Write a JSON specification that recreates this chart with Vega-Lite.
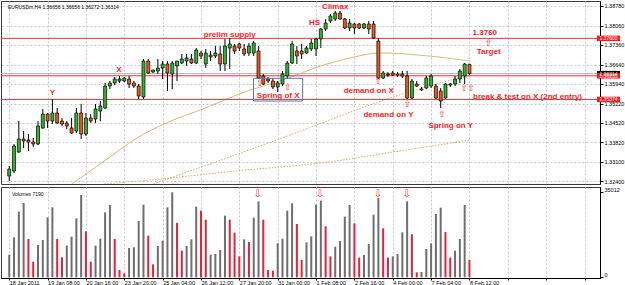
{
"$schema":"https://vega.github.io/schema/vega-lite/v6.json",
"padding":0,
"background":"#ffffff",
"spacing":0,
"resolve":{"scale":{"color":"independent","fill":"independent","strokeDash":"independent"}},
"config":{
 "view":{"stroke":"#3a3a3a","strokeWidth":1},
 "font":"Liberation Sans",
 "axis":{"labelFont":"Liberation Sans","labelFontSize":5.5,"labelColor":"#000000","tickColor":"#000000","domainColor":"#000000","gridColor":"#c8c8c8","gridDash":[2,2],"tickSize":3,"labelPadding":1,"labelFlush":false,"labelOverlap":false}
},
"datasets":{
 "c":[
{"i":0,"o":1.32582,"h":1.32947,"l":1.32400,"c":1.32836,"v":9323,"vc":"g"},
{"i":1,"o":1.32764,"h":1.33749,"l":1.32691,"c":1.33676,"v":16463,"vc":"g"},
{"i":2,"o":1.33457,"h":1.34587,"l":1.33421,"c":1.33931,"v":27034,"vc":"g"},
{"i":3,"o":1.33931,"h":1.34222,"l":1.33603,"c":1.33858,"v":30604,"vc":"g"},
{"i":4,"o":1.33895,"h":1.34113,"l":1.33494,"c":1.33822,"v":15776,"vc":"r"},
{"i":5,"o":1.33822,"h":1.33967,"l":1.33639,"c":1.33749,"v":6438,"vc":"r"},
{"i":6,"o":1.33749,"h":1.34587,"l":1.33712,"c":1.34405,"v":13304,"vc":"g"},
{"i":7,"o":1.34333,"h":1.35025,"l":1.34296,"c":1.34842,"v":15364,"vc":"g"},
{"i":8,"o":1.34842,"h":1.34879,"l":1.34333,"c":1.34587,"v":24702,"vc":"g"},
{"i":9,"o":1.34587,"h":1.35389,"l":1.34478,"c":1.34879,"v":28821,"vc":"g"},
{"i":10,"o":1.34879,"h":1.35061,"l":1.34478,"c":1.34514,"v":15776,"vc":"r"},
{"i":11,"o":1.34587,"h":1.34697,"l":1.34405,"c":1.34478,"v":8226,"vc":"r"},
{"i":12,"o":1.34514,"h":1.34587,"l":1.34296,"c":1.34405,"v":13029,"vc":"g"},
{"i":13,"o":1.34333,"h":1.34697,"l":1.34113,"c":1.34150,"v":16735,"vc":"g"},
{"i":14,"o":1.34222,"h":1.35061,"l":1.34150,"c":1.34879,"v":24290,"vc":"g"},
{"i":15,"o":1.34879,"h":1.35207,"l":1.33931,"c":1.34113,"v":33900,"vc":"g"},
{"i":16,"o":1.34113,"h":1.34879,"l":1.34040,"c":1.34697,"v":18935,"vc":"r"},
{"i":17,"o":1.34697,"h":1.34842,"l":1.34514,"c":1.34587,"v":6438,"vc":"r"},
{"i":18,"o":1.34660,"h":1.35207,"l":1.34514,"c":1.35025,"v":13029,"vc":"g"},
{"i":19,"o":1.34952,"h":1.35316,"l":1.34587,"c":1.35134,"v":15912,"vc":"g"},
{"i":20,"o":1.35061,"h":1.35973,"l":1.35025,"c":1.35863,"v":26761,"vc":"g"},
{"i":21,"o":1.35863,"h":1.36045,"l":1.35753,"c":1.35973,"v":29780,"vc":"g"},
{"i":22,"o":1.35973,"h":1.36191,"l":1.35899,"c":1.36118,"v":15776,"vc":"r"},
{"i":23,"o":1.36045,"h":1.36228,"l":1.35973,"c":1.36118,"v":3007,"vc":"r"},
{"i":24,"o":1.36045,"h":1.36191,"l":1.36009,"c":1.36155,"v":1635,"vc":"r"},
{"i":25,"o":1.36118,"h":1.36228,"l":1.35790,"c":1.35936,"v":12069,"vc":"g"},
{"i":26,"o":1.35973,"h":1.36045,"l":1.35790,"c":1.35863,"v":12345,"vc":"g"},
{"i":27,"o":1.35863,"h":1.35936,"l":1.35389,"c":1.35499,"v":23190,"vc":"g"},
{"i":28,"o":1.35462,"h":1.36848,"l":1.35389,"c":1.36774,"v":29917,"vc":"g"},
{"i":29,"o":1.36774,"h":1.36848,"l":1.36301,"c":1.36337,"v":17147,"vc":"r"},
{"i":30,"o":1.36374,"h":1.36447,"l":1.36337,"c":1.36447,"v":5342,"vc":"r"},
{"i":31,"o":1.36410,"h":1.36848,"l":1.36301,"c":1.36519,"v":12892,"vc":"g"},
{"i":32,"o":1.36519,"h":1.36774,"l":1.36118,"c":1.36665,"v":15088,"vc":"g"},
{"i":33,"o":1.36665,"h":1.36774,"l":1.35681,"c":1.36337,"v":28821,"vc":"g"},
{"i":34,"o":1.36301,"h":1.36774,"l":1.35753,"c":1.36701,"v":35012,"vc":"g"},
{"i":35,"o":1.36592,"h":1.36774,"l":1.36045,"c":1.36774,"v":22366,"vc":"r"},
{"i":36,"o":1.36701,"h":1.37030,"l":1.36665,"c":1.36848,"v":10969,"vc":"r"},
{"i":37,"o":1.36774,"h":1.37030,"l":1.36592,"c":1.36884,"v":12892,"vc":"g"},
{"i":38,"o":1.36848,"h":1.37030,"l":1.36665,"c":1.36701,"v":15640,"vc":"g"},
{"i":39,"o":1.36701,"h":1.37249,"l":1.36665,"c":1.37176,"v":29093,"vc":"g"},
{"i":40,"o":1.37065,"h":1.37139,"l":1.36848,"c":1.36957,"v":27445,"vc":"r"},
{"i":41,"o":1.36665,"h":1.37213,"l":1.36519,"c":1.37065,"v":23738,"vc":"r"},
{"i":42,"o":1.36993,"h":1.37139,"l":1.36774,"c":1.36921,"v":9323,"vc":"g"},
{"i":43,"o":1.36957,"h":1.37321,"l":1.36884,"c":1.37065,"v":9597,"vc":"g"},
{"i":44,"o":1.37030,"h":1.37321,"l":1.36410,"c":1.36665,"v":11245,"vc":"g"},
{"i":45,"o":1.36665,"h":1.37577,"l":1.36410,"c":1.37321,"v":25386,"vc":"g"},
{"i":46,"o":1.37249,"h":1.37613,"l":1.36483,"c":1.37394,"v":23738,"vc":"r"},
{"i":47,"o":1.37321,"h":1.37394,"l":1.37030,"c":1.37139,"v":18384,"vc":"r"},
{"i":48,"o":1.37394,"h":1.37431,"l":1.37139,"c":1.37249,"v":8636,"vc":"r"},
{"i":49,"o":1.37213,"h":1.37394,"l":1.36957,"c":1.37030,"v":15640,"vc":"g"},
{"i":50,"o":1.37065,"h":1.37431,"l":1.36957,"c":1.37321,"v":14540,"vc":"r"},
{"i":51,"o":1.37065,"h":1.37504,"l":1.36957,"c":1.37431,"v":24562,"vc":"g"},
{"i":52,"o":1.37139,"h":1.37321,"l":1.36118,"c":1.36155,"v":31291,"vc":"g"},
{"i":53,"o":1.36228,"h":1.36301,"l":1.35899,"c":1.35936,"v":23738,"vc":"r"},
{"i":54,"o":1.36118,"h":1.36191,"l":1.35973,"c":1.36045,"v":3007,"vc":"r"},
{"i":55,"o":1.36045,"h":1.36155,"l":1.35753,"c":1.35827,"v":2732,"vc":"r"},
{"i":56,"o":1.35827,"h":1.36045,"l":1.35645,"c":1.35973,"v":13991,"vc":"g"},
{"i":57,"o":1.35936,"h":1.36410,"l":1.35863,"c":1.36301,"v":15912,"vc":"g"},
{"i":58,"o":1.36228,"h":1.36774,"l":1.36118,"c":1.36701,"v":27445,"vc":"g"},
{"i":59,"o":1.36701,"h":1.37504,"l":1.36665,"c":1.37394,"v":30467,"vc":"g"},
{"i":60,"o":1.37139,"h":1.37321,"l":1.36665,"c":1.36957,"v":21954,"vc":"r"},
{"i":61,"o":1.37139,"h":1.37394,"l":1.36848,"c":1.37030,"v":7126,"vc":"r"},
{"i":62,"o":1.37065,"h":1.37321,"l":1.37030,"c":1.37249,"v":14404,"vc":"g"},
{"i":63,"o":1.37213,"h":1.37577,"l":1.37139,"c":1.37431,"v":16876,"vc":"g"},
{"i":64,"o":1.37213,"h":1.37613,"l":1.36957,"c":1.37577,"v":29917,"vc":"g"},
{"i":65,"o":1.37577,"h":1.37978,"l":1.37249,"c":1.37941,"v":31564,"vc":"g"},
{"i":66,"o":1.37941,"h":1.38306,"l":1.37868,"c":1.38160,"v":20994,"vc":"r"},
{"i":67,"o":1.38233,"h":1.38488,"l":1.38160,"c":1.38415,"v":8636,"vc":"r"},
{"i":68,"o":1.38306,"h":1.38598,"l":1.38233,"c":1.38525,"v":12617,"vc":"g"},
{"i":69,"o":1.38525,"h":1.38598,"l":1.38269,"c":1.38306,"v":14952,"vc":"g"},
{"i":70,"o":1.38306,"h":1.38342,"l":1.37941,"c":1.37978,"v":24974,"vc":"g"},
{"i":71,"o":1.37978,"h":1.38306,"l":1.37868,"c":1.38160,"v":29780,"vc":"g"},
{"i":72,"o":1.38123,"h":1.38160,"l":1.37759,"c":1.37978,"v":22230,"vc":"r"},
{"i":73,"o":1.38123,"h":1.38160,"l":1.37941,"c":1.37978,"v":8086,"vc":"r"},
{"i":74,"o":1.37978,"h":1.38160,"l":1.37941,"c":1.38123,"v":9185,"vc":"g"},
{"i":75,"o":1.38123,"h":1.38233,"l":1.37759,"c":1.37941,"v":13716,"vc":"g"},
{"i":76,"o":1.38123,"h":1.38233,"l":1.37577,"c":1.37613,"v":25797,"vc":"g"},
{"i":77,"o":1.37504,"h":1.37613,"l":1.36118,"c":1.36155,"v":32664,"vc":"g"},
{"i":78,"o":1.36155,"h":1.36410,"l":1.36118,"c":1.36337,"v":20171,"vc":"r"},
{"i":79,"o":1.36301,"h":1.36374,"l":1.36191,"c":1.36264,"v":8086,"vc":"r"},
{"i":80,"o":1.36337,"h":1.36410,"l":1.36228,"c":1.36264,"v":8636,"vc":"g"},
{"i":81,"o":1.36301,"h":1.36374,"l":1.36191,"c":1.36264,"v":9597,"vc":"g"},
{"i":82,"o":1.36301,"h":1.36410,"l":1.36155,"c":1.36228,"v":18523,"vc":"g"},
{"i":83,"o":1.36228,"h":1.36410,"l":1.35389,"c":1.35426,"v":31291,"vc":"g"},
{"i":84,"o":1.35426,"h":1.36118,"l":1.35389,"c":1.36045,"v":17699,"vc":"r"},
{"i":85,"o":1.35936,"h":1.36045,"l":1.35827,"c":1.35863,"v":2047,"vc":"r"},
{"i":86,"o":1.35753,"h":1.35827,"l":1.35681,"c":1.35717,"v":2183,"vc":"g"},
{"i":87,"o":1.35790,"h":1.36228,"l":1.35753,"c":1.36155,"v":11657,"vc":"g"},
{"i":88,"o":1.35863,"h":1.36301,"l":1.35790,"c":1.36228,"v":13991,"vc":"g"},
{"i":89,"o":1.35863,"h":1.35936,"l":1.35389,"c":1.35426,"v":26073,"vc":"g"},
{"i":90,"o":1.35681,"h":1.35790,"l":1.35061,"c":1.35316,"v":28681,"vc":"g"},
{"i":91,"o":1.35426,"h":1.35973,"l":1.35389,"c":1.35936,"v":18659,"vc":"r"},
{"i":92,"o":1.35899,"h":1.35973,"l":1.35827,"c":1.35936,"v":8086,"vc":"r"},
{"i":93,"o":1.35936,"h":1.36228,"l":1.35863,"c":1.36118,"v":10969,"vc":"g"},
{"i":94,"o":1.36118,"h":1.36483,"l":1.35973,"c":1.36410,"v":15776,"vc":"g"},
{"i":95,"o":1.36228,"h":1.36701,"l":1.35936,"c":1.36665,"v":29780,"vc":"g"},
{"i":96,"o":1.36656,"h":1.36656,"l":1.36272,"c":1.36314,"v":7190,"vc":"r"}
 ],
 "ma":[
{"s":"a","i":13.07,"p":1.32291},{"s":"a","i":19.84,"p":1.33129},{"s":"a","i":27.0,"p":1.34004},{"s":"a","i":32.76,"p":1.34514},{"s":"a","i":40.35,"p":1.35025},{"s":"a","i":48.55,"p":1.35608},{"s":"a","i":58.2,"p":1.36155},{"s":"a","i":64.96,"p":1.36592},{"s":"a","i":71.1,"p":1.36884},{"s":"a","i":77.27,"p":1.37066},{"s":"a","i":87.5,"p":1.36957},{"s":"a","i":96.14,"p":1.36774},
{"s":"b","i":30.09,"p":1.32291},{"s":"b","i":50.6,"p":1.33567},{"s":"b","i":60.86,"p":1.34223},{"s":"b","i":75.2,"p":1.35171},{"s":"b","i":84.04,"p":1.35681},{"s":"b","i":94.3,"p":1.36155},{"s":"b","i":96.14,"p":1.3621},
{"s":"c","i":19.84,"p":1.32291},{"s":"c","i":33.6,"p":1.32509},{"s":"c","i":47.1,"p":1.32765},{"s":"c","i":64.96,"p":1.33056},{"s":"c","i":81.4,"p":1.33494},{"s":"c","i":96.14,"p":1.33895}
 ],
 "lv":[{"p":1.376,"k":"lvl"},{"p":1.36235,"k":"lvl"},{"p":1.35374,"k":"lvl"},{"p":1.36314,"k":"bid"}],
 "tg":[{"p":1.36314,"t":"1.36314","k":"bid"},{"p":1.376,"t":"1.37600","k":"lvl"},{"p":1.36235,"t":"1.36235","k":"lvl"},{"p":1.35374,"t":"1.35374","k":"lvl"}],
 "nt":[
{"i":9.0,"p":1.35608,"t":"Y"},
{"i":22.9,"p":1.36447,"t":"X"},
{"i":46.0,"p":1.37723,"t":"prelim supply"},
{"i":63.7,"p":1.38171,"t":"HS"},
{"i":68.0,"p":1.38743,"t":"Climax"},
{"i":56.1,"p":1.35517,"t":"Spring of X"},
{"i":75.0,"p":1.35681,"t":"demand on X"},
{"i":79.1,"p":1.34820,"t":"demand on Y"},
{"i":92.1,"p":1.34405,"t":"Spring on Y"},
{"i":108.1,"p":1.35462,"t":"break & test on X (2nd entry)"},
{"i":99.2,"p":1.37785,"t":"1.3760"},
{"i":100.0,"p":1.37114,"t":"Target"}
 ],
 "ar":[
{"i":52.3,"p":1.35984},{"i":58.1,"p":1.35845},{"i":77.0,"p":1.36045},{"i":100.0,"p":1.37442},{"i":94.9,"p":1.3579},{"i":96.4,"p":1.3579},{"i":83.1,"p":1.35207},{"i":90.3,"p":1.34832}
 ],
 "bx":[{"i1":50.95,"i2":61.2,"p1":1.36144,"p2":1.35316}],
 "tt":[{"i":-0.27,"p":1.38743,"t":"EURUSDm,H4  1.36656 1.36656 1.36272 1.36314"}],
 "va":[{"i":51.8,"v":34312},{"i":64.8,"v":34312},{"i":76.9,"v":34312},{"i":82.9,"v":34312}],
 "vt":[{"i":0.55,"v":34312,"t":"Volumes 7190"}]
},
"vconcat":[
 {"width":599,"height":183,
  "layer":[
   {"data":{"name":"ma"},"mark":{"type":"line","clip":true,"strokeWidth":1,"interpolate":"monotone","color":"#d6ac6c"},
    "encoding":{
     "x":{"field":"i","type":"quantitative","title":null,"scale":{"domain":[-0.677,122.19],"nice":false,"zero":false},"axis":{"values":[0,8,16,24,32,40,48,56,64,72,80,88,96,104,112,120],"tickCount":100,"labels":false,"ticks":false,"domain":false,"grid":true}},
     "y":{"field":"p","type":"quantitative","title":null,"scale":{"domain":[1.32291,1.38962],"nice":false,"zero":false},"axis":{"orient":"right","values":[1.3878,1.3806,1.3736,1.3664,1.3594,1.3522,1.3452,1.3382,1.331,1.324],"tickCount":100,"format":".5f","grid":true,"labelOverlap":false,"labelFontSize":5.5}},
     "detail":{"field":"s","type":"nominal"},
     "strokeDash":{"field":"s","type":"nominal","scale":{"domain":["a","b","c"],"range":[[1,0],[1.5,1.5],[1.5,1.5]]},"legend":null}}},
   {"data":{"name":"lv"},"mark":{"type":"rule","strokeWidth":1},
    "encoding":{"y":{"field":"p","type":"quantitative","title":null},
     "color":{"field":"k","type":"nominal","scale":{"domain":["lvl","bid"],"range":["#e8303a","#b4b4b4"]},"legend":null}}},
   {"data":{"name":"c"},"mark":{"type":"rule","color":"#000000","strokeWidth":1,"clip":true},
    "encoding":{"x":{"field":"i","type":"quantitative","title":null},"y":{"field":"l","type":"quantitative","title":null},"y2":{"field":"h"}}},
   {"data":{"name":"c"},"mark":{"type":"bar","size":3,"stroke":"#000000","strokeWidth":0.7,"clip":true},
    "encoding":{"x":{"field":"i","type":"quantitative","title":null},"y":{"field":"o","type":"quantitative","title":null},"y2":{"field":"c"},
     "fill":{"condition":{"test":"datum.c>=datum.o","value":"#2fb52f"},"value":"#ea5a1e"}}},
   {"data":{"name":"bx"},"mark":{"type":"rect","fillOpacity":0,"stroke":"#4a7bb7","strokeWidth":1},
    "encoding":{"x":{"field":"i1","type":"quantitative","title":null},"x2":{"field":"i2"},"y":{"field":"p1","type":"quantitative","title":null},"y2":{"field":"p2"}}},
   {"data":{"name":"nt"},"mark":{"type":"text","font":"Liberation Sans","fontWeight":"bold","fontSize":8,"color":"#ff1c1c"},
    "encoding":{"x":{"field":"i","type":"quantitative","title":null},"y":{"field":"p","type":"quantitative","title":null},"text":{"field":"t"}}},
   {"data":{"name":"ar"},"mark":{"type":"text","font":"DejaVu Sans","fontSize":9,"color":"#ff2a2a"},
    "encoding":{"x":{"field":"i","type":"quantitative","title":null},"y":{"field":"p","type":"quantitative","title":null},"text":{"value":"⇧"}}},
   {"data":{"name":"tt"},"mark":{"type":"text","font":"Liberation Sans","fontSize":5,"color":"#000000","align":"left"},
    "encoding":{"x":{"field":"i","type":"quantitative","title":null},"y":{"field":"p","type":"quantitative","title":null},"text":{"field":"t"}}},
   {"data":{"name":"tg"},"mark":{"type":"rect","width":23,"height":5.5,"clip":false},
    "encoding":{"x":{"datum":125.0,"type":"quantitative"},"y":{"field":"p","type":"quantitative","title":null},
     "fill":{"field":"k","type":"nominal","scale":{"domain":["lvl","bid"],"range":["#ff1a1a","#000000"]},"legend":null}}},
   {"data":{"name":"tg"},"mark":{"type":"text","font":"Liberation Sans","fontSize":5,"color":"#ffffff","clip":false},
    "encoding":{"x":{"datum":125.0,"type":"quantitative"},"y":{"field":"p","type":"quantitative","title":null},"text":{"field":"t"}}}
  ]},
 {"width":599,"height":91,
  "layer":[
   {"data":{"name":"c"},"mark":{"type":"bar","size":2},
    "encoding":{
     "x":{"field":"i","type":"quantitative","title":null,"scale":{"domain":[-0.677,122.19],"nice":false,"zero":false},
      "axis":{"values":[0,8,16,24,32,40,48,56,64,72,80,88,96,104,112,120],"tickCount":100,"labelAlign":"left","tickSize":2,"labelPadding":0.5,"grid":true,"labelOverlap":false,"labelFontSize":5.5,
       "labelExpr":"['18 Jan 2011','19 Jan 08:00','20 Jan 16:00','23 Jan 20:00','25 Jan 04:00','26 Jan 12:00','27 Jan 20:00','31 Jan 00:00','1 Feb 08:00','2 Feb 16:00','4 Feb 00:00','7 Feb 04:00','8 Feb 12:00'][datum.value/8] || ''"}},
     "y":{"field":"v","type":"quantitative","title":null,"scale":{"domain":[-290,37195],"nice":false,"zero":false},"axis":{"orient":"right","values":[0,35012],"tickCount":100,"format":"d","grid":false,"labelBaseline":"bottom","labelOverlap":false}},
     "y2":{"datum":0},
     "color":{"field":"vc","type":"nominal","scale":{"domain":["g","r"],"range":["#6e6e6e","#e8203a"]},"legend":null}}},
   {"data":{"name":"va"},"mark":{"type":"text","font":"DejaVu Sans","fontSize":10,"color":"#ff2a2a"},
    "encoding":{"x":{"field":"i","type":"quantitative","title":null},"y":{"field":"v","type":"quantitative","title":null},"text":{"value":"⇩"}}},
   {"data":{"name":"vt"},"mark":{"type":"text","font":"Liberation Sans","fontSize":5,"color":"#000000","align":"left"},
    "encoding":{"x":{"field":"i","type":"quantitative","title":null},"y":{"field":"v","type":"quantitative","title":null},"text":{"field":"t"}}}
  ]}
]
}
